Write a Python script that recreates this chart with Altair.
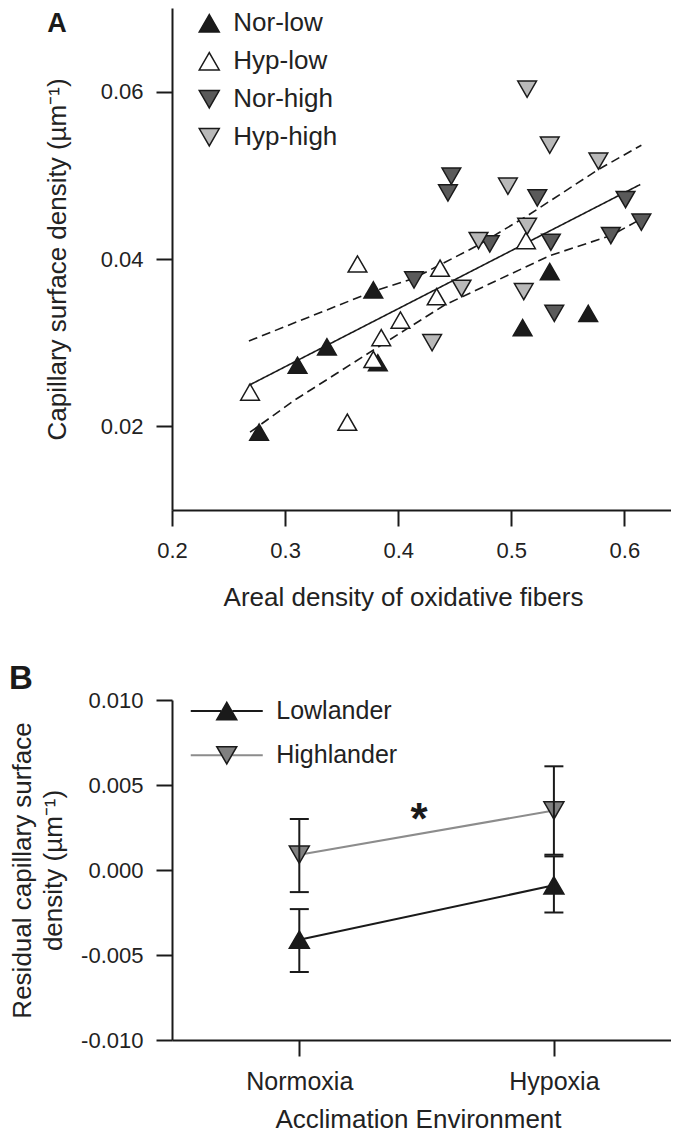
import altair as alt
import pandas as pd

FONT = "Liberation Sans"
INK = "#1a1a1a"

panel_labels = ["A", "B"]

# ---------------- Panel A data ----------------
groups_a = ["Nor-low", "Hyp-low", "Nor-high", "Hyp-high"]
fills_a = ["#1b1b1b", "#ffffff", "#5a5a5a", "#b9b9b9"]
strokes_a = [INK, INK, INK, INK]
shapes_a = ["triangle-up", "triangle-up", "triangle-down", "triangle-down"]

nor_low_x = [0.277, 0.311, 0.337, 0.378, 0.382, 0.510, 0.534, 0.568]
nor_low_y = [0.0193, 0.0273, 0.0295, 0.0363, 0.0276, 0.0318, 0.0385, 0.0335]
hyp_low_x = [0.269, 0.355, 0.364, 0.378, 0.385, 0.402, 0.434, 0.437, 0.513]
hyp_low_y = [0.0241, 0.0205, 0.0394, 0.0280, 0.0306, 0.0327, 0.0355, 0.0389, 0.0422]
nor_high_x = [0.414, 0.444, 0.447, 0.481, 0.523, 0.535, 0.538, 0.588, 0.601, 0.615]
nor_high_y = [0.0375, 0.0479, 0.0499, 0.0418, 0.0473, 0.0420, 0.0335, 0.0428, 0.0471, 0.0444]
hyp_high_x = [0.430, 0.456, 0.471, 0.497, 0.511, 0.514, 0.514, 0.534, 0.577]
hyp_high_y = [0.0300, 0.0365, 0.0422, 0.0487, 0.0361, 0.0439, 0.0603, 0.0536, 0.0517]

fit_x = [0.268, 0.614]
fit_y = [0.0249, 0.0489]
upper_x = [0.268, 0.3775, 0.414, 0.470, 0.5145, 0.577, 0.615]
upper_y = [0.0302, 0.0361, 0.0377, 0.0416, 0.0452, 0.0507, 0.0536]
lower_x = [0.269, 0.308, 0.3465, 0.379, 0.441, 0.534, 0.588, 0.615]
lower_y = [0.0193, 0.0231, 0.0264, 0.0292, 0.0345, 0.0404, 0.0428, 0.0448]

xa_ticks = [0.2, 0.3, 0.4, 0.5, 0.6]
ya_ticks = [0.02, 0.04, 0.06]

# ---------------- Panel B data ----------------
env_labels = ["Normoxia", "Hypoxia"]
env_pos = [1, 2]
groups_b = ["Lowlander", "Highlander"]
marker_keys_b = ["Lowlander mean", "Highlander mean"]
line_colors_b = [INK, "#8c8c8c"]
fills_b = [INK, "#808080"]
strokes_b = [INK, INK]
shapes_b = ["triangle-up", "triangle-down"]
low_mean = [-0.0041, -0.0009]
low_lo = [-0.0060, -0.0025]
low_hi = [-0.0023, 0.0008]
high_mean = [0.0009, 0.0035]
high_lo = [-0.0013, 0.0009]
high_hi = [0.0030, 0.0061]
yb_ticks = [-0.010, -0.005, 0.0, 0.005, 0.010]
star_x = [1.47]
star_y = [0.0035]
star_text = ["*"]

# ---------------- tables ----------------
rows = []
for k, (g, xs, ys) in enumerate(zip(groups_a,
                                    [nor_low_x, hyp_low_x, nor_high_x, hyp_high_x],
                                    [nor_low_y, hyp_low_y, nor_high_y, hyp_high_y])):
    for x, y in zip(xs, ys):
        rows.append({"group": g, "x": x, "y": y, "k": k})
pts_a = pd.DataFrame(rows)

line_rows = []
for name, style, xs, ys in [("fit", "solid", fit_x, fit_y),
                            ("upper", "dashed", upper_x, upper_y),
                            ("lower", "dashed", lower_x, lower_y)]:
    for x, y in zip(xs, ys):
        line_rows.append({"band": name, "style": style, "x": x, "y": y})
lines_a = pd.DataFrame(line_rows)

b_rows = []
for g, mk, means, los, his in [(groups_b[0], marker_keys_b[0], low_mean, low_lo, low_hi),
                               (groups_b[1], marker_keys_b[1], high_mean, high_lo, high_hi)]:
    for e, pos, m, lo, hi in zip(env_labels, env_pos, means, los, his):
        b_rows.append({"lgroup": g, "pgroup": mk, "env": e, "pos": pos,
                       "mean": m, "lo": lo, "hi": hi})
b_df = pd.DataFrame(b_rows)
cap_df = b_df.melt(id_vars=["lgroup", "pos"], value_vars=["lo", "hi"], value_name="v")
star_df = pd.DataFrame({"x": star_x, "y": star_y, "t": star_text})

W = 499
HA = 502
HB = 340
GAP = 190

# ---------------- Panel A ----------------
xa_scale = alt.Scale(domain=[0.2, 0.2 + W / 1131.0], nice=False, zero=False)
ya_scale = alt.Scale(domain=[0.01, 0.07], nice=False, zero=False)
xa_title = "Areal density of oxidative fibers"
ya_title = "Capillary surface density (µm⁻¹)"

xa_axis = alt.Axis(values=xa_ticks, format=".1f", labelFontSize=22, labelPadding=31,
                   labelBaseline="alphabetic", title=xa_title,
                   titleX=231, titleY=95, titleBaseline="alphabetic", titleAlign="center")
ya_axis = alt.Axis(values=ya_ticks, format=".2f", labelFontSize=22, labelPadding=13,
                   title=ya_title, titleX=-107, titleBaseline="alphabetic")

leg_a = alt.Legend(title=None, orient="none", legendX=24.25, legendY=2.25, padding=0,
                   labelFont=FONT, labelFontSize=26, labelColor="#222222", symbolSize=400,
                   symbolStrokeWidth=1.5, symbolOpacity=1,
                   rowPadding=12, labelOffset=11)

lines_chart = alt.Chart(lines_a).mark_line(color=INK, strokeWidth=1.6).encode(
    x=alt.X("x:Q", scale=xa_scale, axis=xa_axis),
    y=alt.Y("y:Q", scale=ya_scale, axis=ya_axis),
    detail="band:N",
    order="x:Q",
    strokeDash=alt.StrokeDash("style:N", scale=alt.Scale(domain=["solid", "dashed"],
                                                          range=[[1, 0], [9, 5]]), legend=None),
)

pts_chart = alt.Chart(pts_a).mark_point(filled=True, opacity=1, size=350,
                                        strokeWidth=1.5).encode(
    x=alt.X("x:Q", scale=xa_scale, title=xa_title),
    y=alt.Y("y:Q", scale=ya_scale, title=ya_title),
    fill=alt.Fill("group:N", scale=alt.Scale(domain=groups_a, range=fills_a), legend=leg_a),
    stroke=alt.Stroke("group:N", scale=alt.Scale(domain=groups_a, range=strokes_a), legend=leg_a),
    shape=alt.Shape("group:N", scale=alt.Scale(domain=groups_a, range=shapes_a), legend=leg_a),
    order="k:Q",
)

lab_a = alt.Chart(pd.DataFrame({"t": [panel_labels[0]]})).mark_text(
    font=FONT, fontSize=27, fontWeight="bold", align="center", baseline="alphabetic", color=INK
).encode(text="t:N", x=alt.value(-115), y=alt.value(24))

chart_a = alt.layer(lines_chart, pts_chart, lab_a).properties(width=W, height=HA)

# ---------------- Panel B ----------------
xb_scale = alt.Scale(domain=[0.5, 0.5 + W / 254.6], nice=False, zero=False)
yb_scale = alt.Scale(domain=[-0.01, 0.01], nice=False, zero=False)

env_expr = f"datum.value == {env_pos[0]} ? '{env_labels[0]}' : '{env_labels[1]}'"
xb_title = "Acclimation Environment"
yb_title = ["Residual capillary surface", "density (µm⁻¹)"]
xb_axis = alt.Axis(values=env_pos, labelExpr=env_expr, labelFontSize=25, labelPadding=33,
                   labelBaseline="alphabetic", title=xb_title,
                   titleX=246, titleY=87, titleBaseline="alphabetic", titleAlign="center")
yb_axis = alt.Axis(values=yb_ticks,
                   labelExpr="replace(format(datum.value, '.3f'), '\u2212', '-')",
                   labelFontSize=22, labelPadding=13,
                   title=yb_title, titleX=-142,
                   titleBaseline="alphabetic", titleLineHeight=31)

LEG_B_Y = -1.5
leg_b_line = alt.Legend(title=None, orient="none", legendX=42.25, legendY=LEG_B_Y, padding=0,
                        labelFont=FONT, labelFontSize=25, labelColor="#222222",
                        symbolType="M-3.6,0L-0.55,0M0.55,0L3.6,0", symbolSize=400,
                        symbolStrokeWidth=2, rowPadding=18.3, labelOffset=37)
leg_b_pts = alt.Legend(title=None, orient="none", legendX=42.25, legendY=LEG_B_Y, padding=0,
                       labelFont=FONT, labelFontSize=25, labelExpr="''", symbolSize=400,
                       symbolStrokeWidth=1.5, symbolOpacity=1,
                       rowPadding=18.3, labelOffset=37)

line_b = alt.Chart(b_df).mark_line(strokeWidth=2).encode(
    x=alt.X("pos:Q", scale=xb_scale, axis=xb_axis),
    y=alt.Y("mean:Q", scale=yb_scale, axis=yb_axis),
    color=alt.Color("lgroup:N", scale=alt.Scale(domain=groups_b, range=line_colors_b),
                    legend=leg_b_line),
    detail="lgroup:N",
)
pts_b = alt.Chart(b_df).mark_point(filled=True, opacity=1, size=400, strokeWidth=1.5).encode(
    x=alt.X("pos:Q", scale=xb_scale, title=xb_title),
    y=alt.Y("mean:Q", scale=yb_scale, title=yb_title),
    fill=alt.Fill("pgroup:N", scale=alt.Scale(domain=marker_keys_b, range=fills_b),
                  legend=leg_b_pts),
    stroke=alt.Stroke("pgroup:N", scale=alt.Scale(domain=marker_keys_b, range=strokes_b),
                      legend=leg_b_pts),
    shape=alt.Shape("pgroup:N", scale=alt.Scale(domain=marker_keys_b, range=shapes_b),
                    legend=leg_b_pts),
)
rule_b = alt.Chart(b_df).mark_rule(color=INK, strokeWidth=2).encode(
    x=alt.X("pos:Q", scale=xb_scale, title=xb_title),
    y=alt.Y("lo:Q", scale=yb_scale, title=yb_title),
    y2="hi:Q",
)
cap_b = alt.Chart(cap_df).mark_tick(orient="horizontal", size=19, thickness=2, color=INK,
                                    opacity=1).encode(
    x=alt.X("pos:Q", scale=xb_scale, title=xb_title),
    y=alt.Y("v:Q", scale=yb_scale, title=yb_title),
)
star_b = alt.Chart(star_df).mark_text(font=FONT, fontSize=44, fontWeight="bold", color=INK,
                                      baseline="middle", align="center", dy=10).encode(
    x=alt.X("x:Q", scale=xb_scale, title=xb_title),
    y=alt.Y("y:Q", scale=yb_scale, title=yb_title),
    text="t:N",
)
lab_b = alt.Chart(pd.DataFrame({"t": [panel_labels[1]]})).mark_text(
    font=FONT, fontSize=33, fontWeight="bold", align="center", baseline="alphabetic", color=INK
).encode(text="t:N", x=alt.value(-151), y=alt.value(-11))

chart_b = alt.layer(line_b, pts_b, rule_b, cap_b, star_b, lab_b).properties(width=W, height=HB)

chart = alt.vconcat(chart_a, chart_b, spacing=GAP, bounds="flush", padding=0).resolve_scale(
    color="independent", fill="independent", shape="independent", stroke="independent",
    strokeDash="independent"
).resolve_legend(
    color="independent", fill="independent", shape="independent", stroke="independent",
    strokeDash="independent"
).configure(font=FONT).configure_axis(
    domainColor=INK, domainWidth=2, tickColor=INK, tickWidth=2, tickSize=16, grid=False,
    labelFont=FONT, labelColor="#222222", labelFlush=False, titleFont=FONT, titleFontSize=26,
    titleFontWeight="normal", titleColor="#222222"
).configure_view(stroke=None)

chart.save("out.html", embed_options={"renderer": "svg", "actions": False})
